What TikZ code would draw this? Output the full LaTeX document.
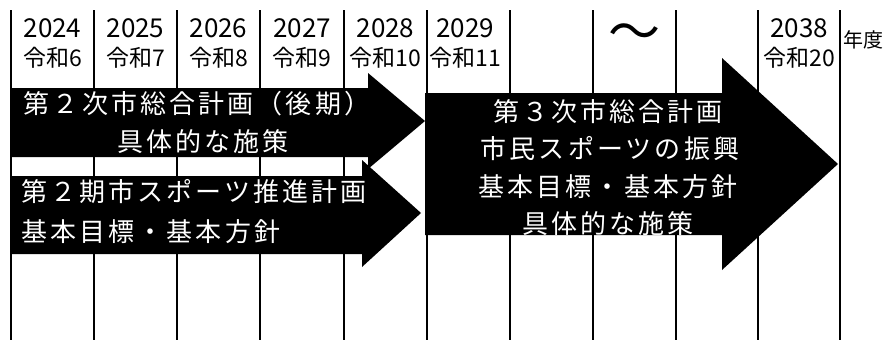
\documentclass[tikz,border=0pt]{standalone}
\usepackage{fontspec}
\setmainfont{Noto Sans CJK JP}
\begin{document}
\begin{tikzpicture}[x=1pt,y=-1pt,
  gridline/.style={line width=1.3pt,black},
  yr/.style={anchor=base,inner sep=0pt,font=\fontsize{26}{26}\selectfont},
  rw/.style={anchor=base,inner sep=0pt,font=\fontsize{23}{23}\selectfont},
  bigarrow/.style={fill=black},
  lbl/.style={anchor=base,inner sep=0pt,text=white,font=\fontsize{26}{26}\selectfont\addfontfeatures{LetterSpace=12}}]
\useasboundingbox (0,0) rectangle (887,340);
% grid
\foreach \x in {11,94,177,260,344,427,510,593,676,758,840}
  \draw[gridline] (\x,10) -- (\x,340);
% header
\node[yr] (y24) at (52.5,37) {2024};
\node[yr] (y25) at (135.5,37) {2025};
\node[yr] (y26) at (218.5,37) {2026};
\node[yr] (y27) at (302,37) {2027};
\node[yr] (y28) at (385.5,37) {2028};
\node[yr] (y29) at (465,37) {2029};
\node[yr] (y38) at (799,37) {2038};
\node[rw] (r6) at (52.5,66) {令和6};
\node[rw] (r7) at (135.5,66) {令和7};
\node[rw] (r8) at (218.5,66) {令和8};
\node[rw] (r9) at (302,66) {令和9};
\node[rw] (r10) at (385.5,66) {令和10};
\node[rw] (r11) at (465,66) {令和11};
\node[rw] (r20) at (799,66) {令和20};
\node[anchor=base,inner sep=0pt,font=\fontsize{52}{52}\selectfont] (tilde) at (634,50) {〜};
\node[anchor=base west,inner sep=0pt,font=\fontsize{20}{20}\selectfont] (nendo) at (843,47) {年度};
% arrows
\fill[bigarrow] (11,88) -- (368,88) -- (368,73) -- (425,121) -- (368,169) -- (368,157) -- (11,157) -- cycle;
\fill[bigarrow] (11,176) -- (362,176) -- (362,160) -- (421,213) -- (362,267) -- (362,254) -- (11,254) -- cycle;
\fill[bigarrow] (425,93) -- (722,93) -- (722,58) -- (838,164) -- (722,270) -- (722,235) -- (425,235) -- cycle;
% labels
\node[lbl] (a1a) at (197,113) {第２次市総合計画（後期）};
\node[lbl] (a1b) at (203,151) {具体的な施策};
\node[lbl,anchor=base west] (a2a) at (21,201) {第２期市スポーツ推進計画};
\node[lbl,anchor=base west] (a2b) at (21,241) {基本目標・基本方針};
\node[lbl] (a3a) at (608,121) {第３次市総合計画};
\node[lbl] (a3b) at (610,158) {市民スポーツの振興};
\node[lbl] (a3c) at (608,196) {基本目標・基本方針};
\node[lbl] (a3d) at (608,233) {具体的な施策};
\end{tikzpicture}
\end{document}
